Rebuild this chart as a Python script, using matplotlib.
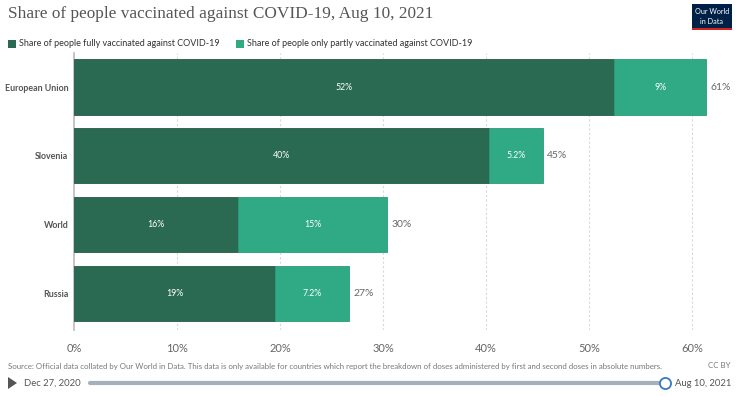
import matplotlib
matplotlib.use("Agg")
import matplotlib.pyplot as plt
from matplotlib.patches import Rectangle, Polygon

countries = ["European Union", "Slovenia", "World", "Russia"]
fully = [52.4, 40.3, 15.9, 19.5]
partly = [9.0, 5.2, 14.5, 7.2]
fully_labels = ["52%", "40%", "16%", "19%"]
partly_labels = ["9%", "5.2%", "15%", "7.2%"]
total_labels = ["61%", "45%", "30%", "27%"]
xticks = [0, 10, 20, 30, 40, 50, 60]
xtick_labels = ["0%", "10%", "20%", "30%", "40%", "50%", "60%"]

DARK = "#2a6a53"
LIGHT = "#30a985"
SANS = ["Lato", "DejaVu Sans"]

W, H = 736, 396
fig = plt.figure(figsize=(W / 100, H / 100), dpi=100)
fig.patch.set_facecolor("white")

ax_left, ax_right = 74, 723
ax_top, ax_bot = 53, 330
ax = fig.add_axes([ax_left / W, 1 - ax_bot / H, (ax_right - ax_left) / W, (ax_bot - ax_top) / H])
xmax = (ax_right - ax_left) / 10.3
ax.set_xlim(0, xmax)
ax.set_ylim(3.53, -0.494)

y = list(range(len(countries)))
ax.barh(y, fully, height=0.8, color=DARK, edgecolor="#245c48", linewidth=0.6, zorder=3)
ax.barh(y, partly, left=fully, height=0.8, color=LIGHT, edgecolor="#2b9a78", linewidth=0.6, zorder=3)

for i in y:
    ax.text(fully[i] / 2, i, fully_labels[i], color="white", fontsize=6.3, ha="center", va="center",
            family=SANS, zorder=4)
    ax.text(fully[i] + partly[i] / 2, i, partly_labels[i], color="white", fontsize=6.3, ha="center",
            va="center", family=SANS, zorder=4)
    ax.text(fully[i] + partly[i] + 0.4, i, total_labels[i], color="#666666", fontsize=7.5, ha="left",
            va="center", family=SANS, zorder=4)

for t in xticks[1:]:
    ax.axvline(t, color="#d8d8d8", linestyle=(0, (2, 2)), linewidth=0.8, zorder=1)

for s in ["top", "right", "bottom"]:
    ax.spines[s].set_visible(False)
ax.spines["left"].set_color("#bbbbbb")
ax.spines["left"].set_linewidth(1.2)

ax.set_xticks(xticks)
ax.set_xticklabels(xtick_labels, family=SANS, fontsize=8, color="#666666")
ax.tick_params(axis="x", length=0, pad=9)
ax.set_yticks(y)
ax.set_yticklabels(countries, family=SANS, fontsize=6.4, color="#555555", fontweight="bold")
ax.tick_params(axis="y", length=0, pad=4)

# Title
fig.text(8 / W, 1 - 14 / H, "Share of people vaccinated against COVID-19, Aug 10, 2021",
         family=["Liberation Serif", "DejaVu Serif"], fontsize=12.4, color="#555555", va="center", ha="left")

# Logo
lx, ly, lw, lh = 692, 4, 40, 24
fig.patches.append(Rectangle((lx / W, 1 - (ly + lh) / H), lw / W, lh / H, transform=fig.transFigure,
                             facecolor="#002147", edgecolor="none"))
fig.patches.append(Rectangle((lx / W, 1 - (ly + lh + 2) / H), lw / W, 2 / H, transform=fig.transFigure,
                             facecolor="#ce261e", edgecolor="none"))
fig.text((lx + lw / 2) / W, 1 - (ly + 8) / H, "Our World", color="white", fontsize=5.2, ha="center",
         va="center", family=SANS)
fig.text((lx + lw / 2) / W, 1 - (ly + 17) / H, "in Data", color="white", fontsize=5.2, ha="center",
         va="center", family=SANS)

# Legend
leg_y = 44
for x0, col, txt in [(8, DARK, "Share of people fully vaccinated against COVID-19"),
                     (236, LIGHT, "Share of people only partly vaccinated against COVID-19")]:
    fig.patches.append(Rectangle((x0 / W, 1 - (leg_y + 4) / H), 8 / W, 8 / H, transform=fig.transFigure,
                                 facecolor=col, edgecolor="none"))
    fig.text((x0 + 11) / W, 1 - leg_y / H, txt, fontsize=6.5, color="#333333", va="center", ha="left",
             family=SANS)

# Source
fig.text(8 / W, 1 - 366 / H,
         "Source: Official data collated by Our World in Data. This data is only available for countries which report the breakdown of doses administered by first and second doses in absolute numbers.",
         fontsize=5.7, color="#777777", va="center", ha="left", family=SANS)
fig.text(731 / W, 1 - 366 / H, "CC BY", fontsize=5.7, color="#777777", va="center", ha="right", family=SANS)

# Timeline
ty = 383
fig.patches.append(Polygon([(8 / W, 1 - (ty - 6) / H), (8 / W, 1 - (ty + 6) / H), (17 / W, 1 - ty / H)],
                           closed=True, transform=fig.transFigure, facecolor="#555555", edgecolor="none"))
fig.text(24 / W, 1 - ty / H, "Dec 27, 2020", fontsize=6.8, color="#555555", va="center", ha="left", family=SANS)
fig.add_artist(plt.Line2D([90 / W, 659 / W], [1 - ty / H, 1 - ty / H], transform=fig.transFigure,
                          color="#a5b0bb", linewidth=3, solid_capstyle="round"))
circ = plt.Line2D([665 / W], [1 - ty / H], transform=fig.transFigure, marker="o", markersize=8,
                  markerfacecolor="white", markeredgecolor="#3b78c4", markeredgewidth=1.3, linestyle="none")
fig.add_artist(circ)
fig.text(675 / W, 1 - ty / H, "Aug 10, 2021", fontsize=6.8, color="#555555", va="center", ha="left", family=SANS)

fig.savefig("out.png", dpi=100, facecolor="white")
